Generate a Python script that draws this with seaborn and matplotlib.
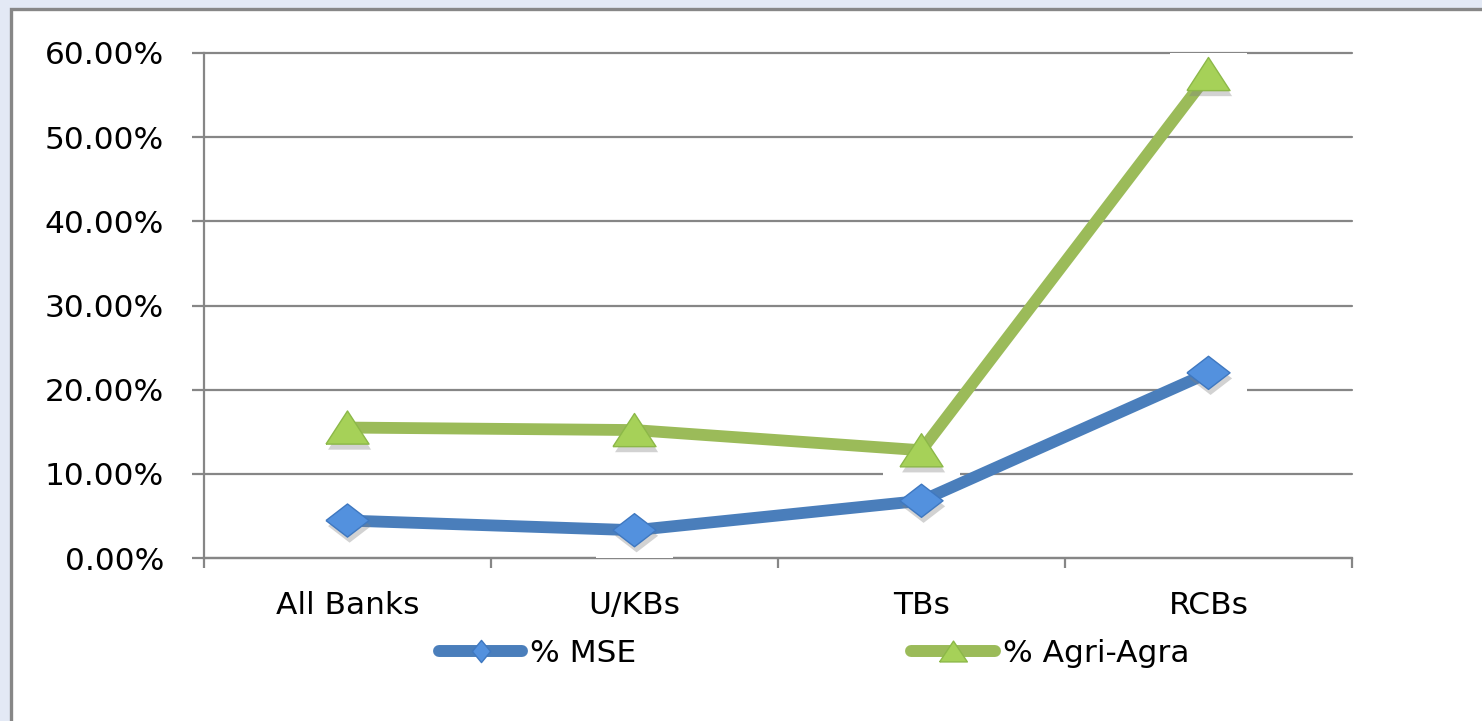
import matplotlib
matplotlib.use("Agg")
import matplotlib.pyplot as plt
import matplotlib.patheffects as pe
from matplotlib.lines import Line2D
from matplotlib.patches import Rectangle
from matplotlib.ticker import FixedLocator, FuncFormatter
import pandas as pd
import seaborn as sns

# Data (percent)
banks = ["All Banks", "U/KBs", "TBs", "RCBs"]
mse = [4.45, 3.3, 6.8, 22.0]
agri = [15.5, 15.2, 12.8, 57.5]
series_names = ["% MSE", "% Agri-Agra"]

line_colors = {"% MSE": "#4A7EBB", "% Agri-Agra": "#9BBB59"}
marker_face = {"% MSE": "#5391DE", "% Agri-Agra": "#A6D158"}
marker_edge = {"% MSE": "#3F78C0", "% Agri-Agra": "#8CB848"}

sns.set_theme(style="white")
plt.rcParams["font.family"] = ["DejaVu Sans"]

df = pd.DataFrame({
    "bank": banks * 2,
    "value": mse + agri,
    "series": [series_names[0]] * 4 + [series_names[1]] * 4,
})

W, H = 1482, 721
fig = plt.figure(figsize=(W / 100, H / 100), dpi=100, facecolor="#E3E9F5")
# white chart area with grey frame (cut off at right/bottom)
fig.patches.append(Rectangle((11 / W, -0.05), 1.1, 1 - 9 / H + 0.05,
                             transform=fig.transFigure, facecolor="white",
                             edgecolor="#878787", lw=2.4, zorder=-1))

ax = fig.add_axes([204 / W, 1 - 558 / H, (1352 - 204) / W, (558 - 53) / H])
ax.set_facecolor("white")

# custom markers
diamond = [(-1, 0), (0, 0.77), (1, 0), (0, -0.77), (-1, 0)]
triangle = [(-1, -0.77), (0, 0.77), (1, -0.77), (-1, -0.77)]
halo = [(-1, -0.88), (1, -0.88), (1, 0.88), (-1, 0.88), (-1, -0.88)]
markers = {"% MSE": diamond, "% Agri-Agra": triangle}

# white halo behind the markers (hides grid lines)
sns.scatterplot(data=df, x="bank", y="value", marker=halo, s=3000,
                color="white", edgecolor="none", zorder=2.7, legend=False, ax=ax)

# lines
sns.lineplot(data=df, x="bank", y="value", hue="series", palette=line_colors,
             lw=8.5, sort=False, legend=False, zorder=3, ax=ax)

# markers with a soft shadow
shadow = [pe.SimplePatchShadow(offset=(1.5, -4), shadow_rgbFace="#7F7F7F", alpha=0.35),
          pe.Normal()]
for name, vals in zip(series_names, [mse, agri]):
    sns.scatterplot(x=banks, y=vals, marker=markers[name], s=961,
                    color=marker_face[name], edgecolor=marker_edge[name],
                    linewidth=1, zorder=4, path_effects=shadow, ax=ax)

grey = "#868686"
ax.set_xlim(-0.5, 3.5)
ax.set_ylim(0, 60)
ax.set_yticks(range(0, 61, 10))
ax.yaxis.set_major_formatter(FuncFormatter(lambda v, p: f"{v:.2f}%"))
ax.xaxis.set_minor_locator(FixedLocator([-0.5, 0.5, 1.5, 2.5, 3.5]))
ax.set_xlabel("")
ax.set_ylabel("")

ax.yaxis.grid(True, color=grey, lw=1.6)
ax.set_axisbelow(True)
for gl in ax.get_ygridlines():
    gl.set_clip_on(False)

for side in ["top", "right"]:
    ax.spines[side].set_visible(False)
for side in ["left", "bottom"]:
    ax.spines[side].set_color(grey)
    ax.spines[side].set_linewidth(1.6)

ax.tick_params(axis="y", left=True, length=8.6, width=1.6, color=grey,
               pad=20, labelsize=22.5, labelcolor="black")
ax.tick_params(axis="x", which="major", bottom=True, length=0, pad=24,
               labelsize=22.5, labelcolor="black")
ax.tick_params(axis="x", which="minor", bottom=True, length=7, width=1.6, color=grey)

# legend
leg_diamond = [(-0.82, 0), (0, 1), (0.82, 0), (0, -1), (-0.82, 0)]
leg_triangle = [(-1, -0.75), (0, 0.75), (1, -0.75), (-1, -0.75)]
handles = [
    Line2D([], [], color=line_colors["% MSE"], lw=8.6, solid_capstyle="round",
           marker=leg_diamond, ms=16, mfc=marker_face["% MSE"], mec=marker_edge["% MSE"]),
    Line2D([], [], color=line_colors["% Agri-Agra"], lw=8.6, solid_capstyle="round",
           marker=leg_triangle, ms=20, mfc=marker_face["% Agri-Agra"],
           mec=marker_edge["% Agri-Agra"]),
]
fig.legend(handles=handles, labels=series_names, loc="center left",
           bbox_to_anchor=(439 / W, 1 - 653 / H), ncol=2, frameon=False,
           fontsize=22.5, labelcolor="black",
           handlelength=2.66, handletextpad=0.26, columnspacing=8.8,
           borderpad=0, borderaxespad=0)

fig.savefig("out.png", dpi=100, facecolor=fig.get_facecolor())
